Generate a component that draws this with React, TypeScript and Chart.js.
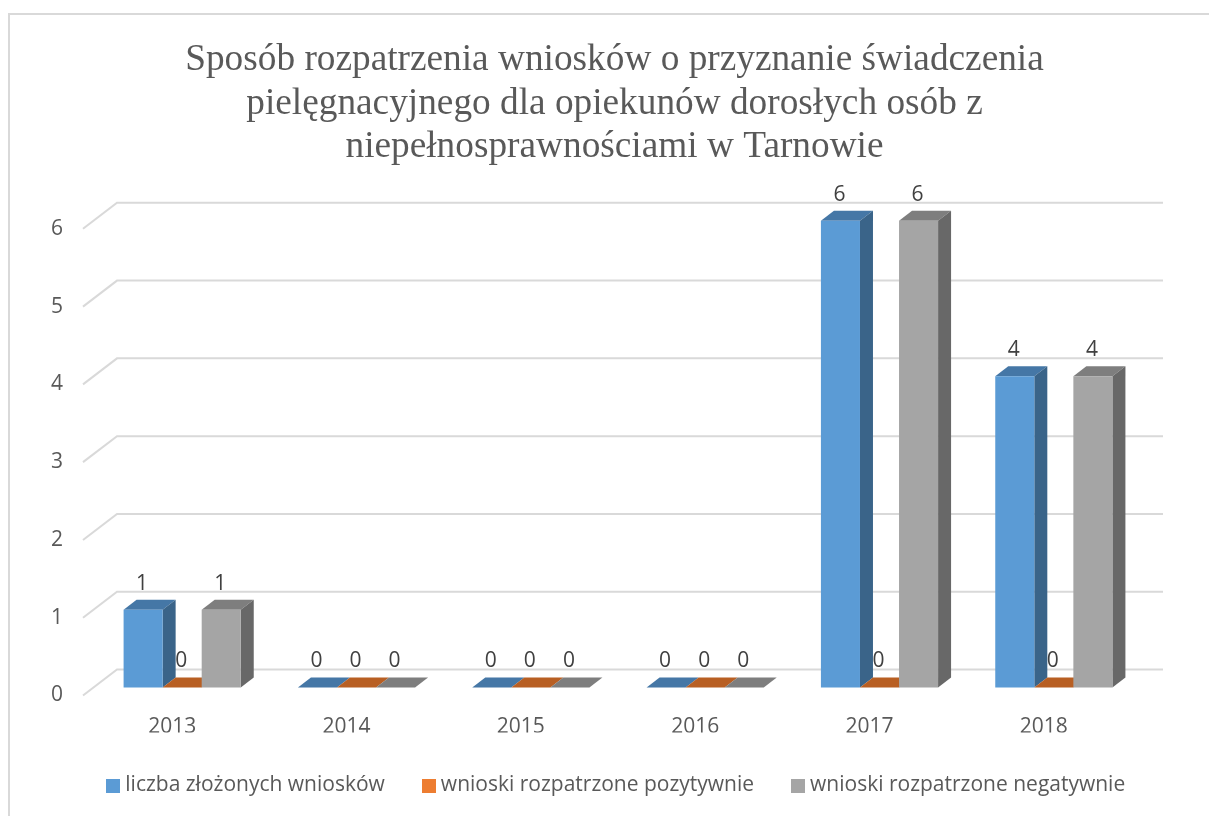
import React, { useEffect, useRef } from "react";
import Chart from "chart.js/auto";

const categories = ["2013", "2014", "2015", "2016", "2017", "2018"];
const submitted = [1, 0, 0, 0, 6, 4];
const positive = [0, 0, 0, 0, 0, 0];
const negative = [1, 0, 0, 0, 6, 4];
const seriesNames = [
  "liczba złożonych wniosków",
  "wnioski rozpatrzone pozytywnie",
  "wnioski rozpatrzone negatywnie",
];
const titleLines = [
  "Sposób rozpatrzenia wniosków o przyznanie świadczenia",
  "pielęgnacyjnego dla opiekunów dorosłych osób z",
  "niepełnosprawnościami w Tarnowie",
];
const frontColors = ["#5B9BD5", "#ED7D31", "#A5A5A5"];
const barFrontColors = ["#5B9BD5", "#B85F23", "#A5A5A5"];
const topColors = ["#4577A6", "#B85F23", "#7E7E7E"];
const sideColors = ["#3A6489", "#9C5120", "#686868"];

const UI_FONT = "'Open Sans', sans-serif";
const SHIFT_X = 10;
const SHIFT_Y = -8;
const DEPTH_X = 13;
const DEPTH_Y = 10;
const LEGEND_SHIFT = 4;

function swatch(color: string) {
  const c = document.createElement("canvas");
  c.width = 14;
  c.height = 14;
  const g = c.getContext("2d")!;
  g.fillStyle = color;
  g.fillRect(0, 0, 14, 14);
  return c;
}

function poly(ctx: CanvasRenderingContext2D, pts: number[][], color: string) {
  ctx.fillStyle = color;
  ctx.beginPath();
  pts.forEach((p, i) => (i ? ctx.lineTo(p[0], p[1]) : ctx.moveTo(p[0], p[1])));
  ctx.closePath();
  ctx.fill();
}

const frame3d = {
  id: "frame3d",
  afterLayout(chart: any) {
    chart.legend.left += LEGEND_SHIFT;
    chart.legend.right += LEGEND_SHIFT;
  },
  beforeDraw(chart: any) {
    const { ctx, width, height, chartArea, scales } = chart;
    ctx.save();
    ctx.fillStyle = "#FFFFFF";
    ctx.fillRect(0, 0, width, height);
    ctx.strokeStyle = "#D9D9D9";
    ctx.lineWidth = 2;
    ctx.beginPath();
    ctx.moveTo(9, height);
    ctx.lineTo(9, 14);
    ctx.lineTo(width, 14);
    ctx.stroke();
    const yS = scales.y;
    yS.ticks.forEach((_: any, i: number) => {
      const y = yS.getPixelForTick(i);
      ctx.beginPath();
      ctx.moveTo(chartArea.left - 2, y);
      ctx.lineTo(chartArea.left + 32, y - 26);
      ctx.lineTo(chartArea.right + 32, y - 26);
      ctx.stroke();
    });
    ctx.restore();
  },
  beforeDatasetsDraw(chart: any) {
    const { ctx } = chart;
    ctx.save();
    ctx.translate(SHIFT_X, SHIFT_Y);
    chart.data.datasets.forEach((_: any, di: number) => {
      chart.getDatasetMeta(di).data.forEach((el: any) => {
        const { x, y, base, width } = el.getProps(["x", "y", "base", "width"], true);
        const l = x - width / 2;
        const r = x + width / 2;
        poly(ctx, [[l, y], [l + DEPTH_X, y - DEPTH_Y], [r + DEPTH_X, y - DEPTH_Y], [r, y]], topColors[di]);
        if (base - y > 0.5) {
          poly(ctx, [[r, y], [r + DEPTH_X, y - DEPTH_Y], [r + DEPTH_X, base - DEPTH_Y], [r, base]], sideColors[di]);
        }
      });
    });
  },
  afterDatasetsDraw(chart: any) {
    const { ctx } = chart;
    ctx.restore();
    ctx.save();
    ctx.fillStyle = "#404040";
    ctx.font = `21px ${UI_FONT}`;
    ctx.textAlign = "center";
    ctx.textBaseline = "middle";
    chart.data.datasets.forEach((ds: any, di: number) => {
      chart.getDatasetMeta(di).data.forEach((el: any, i: number) => {
        const { x, y } = el.getProps(["x", "y"], true);
        ctx.fillText(String(ds.data[i]), x + SHIFT_X - 1, y + SHIFT_Y - 26);
      });
    });
    ctx.restore();
  },
};

export default function App() {
  const ref = useRef<HTMLCanvasElement>(null);
  useEffect(() => {
    const series = [submitted, positive, negative];
    const chart = new Chart(ref.current!, {
      type: "bar",
      data: {
        labels: categories,
        datasets: series.map((data, i) => ({
          label: seriesNames[i],
          data,
          backgroundColor: barFrontColors[i],
          borderWidth: 0,
          barPercentage: 1,
          categoryPercentage: 0.672,
          clip: false as any,
        })),
      },
      plugins: [frame3d],
      options: {
        animation: false,
        responsive: false,
        layout: { padding: { left: 20, right: 0, top: 0, bottom: 10 } },
        scales: {
          x: {
            clip: false,
            grid: { display: false, drawTicks: false },
            border: { display: false },
            ticks: { color: "#595959", font: { family: UI_FONT, size: 21 }, padding: 19, maxRotation: 0 },
            afterFit(a: any) { a.height = 37; },
          },
          y: {
            min: 0,
            max: 6,
            grid: { display: false, drawTicks: false },
            border: { display: false },
            ticks: { stepSize: 1, color: "#595959", font: { family: UI_FONT, size: 21 }, padding: 22 },
            afterFit(a: any) { a.width = 65; },
          },
          frameRight: {
            position: "right",
            display: true,
            grid: { display: false, drawTicks: false },
            border: { display: false },
            ticks: { display: false },
            afterFit(a: any) { a.width = 78; },
          },
        },
        plugins: {
          tooltip: { enabled: false },
          title: {
            display: true,
            text: titleLines,
            color: "#595959",
            font: { family: "'Liberation Serif', serif", size: 37.3, weight: "normal", lineHeight: 1.16 },
            padding: { top: 39, bottom: 60 },
          },
          legend: {
            position: "bottom",
            labels: {
              color: "#595959",
              font: { family: UI_FONT, size: 21 },
              usePointStyle: true,
              pointStyleWidth: 3,
              padding: 42.5,
              generateLabels: () =>
                seriesNames.map((text, i) => ({
                  text,
                  fillStyle: frontColors[i],
                  strokeStyle: frontColors[i],
                  lineWidth: 0,
                  fontColor: "#595959",
                  pointStyle: swatch(frontColors[i]),
                  datasetIndex: i,
                  hidden: false,
                })),
            },
          },
        },
      } as any,
    });
    return () => chart.destroy();
  }, []);
  return (
    <div style={{ position: "fixed", left: 0, top: 0, width: 1209, height: 816, background: "#fff" }}>
      <canvas ref={ref} width={1209} height={816} style={{ display: "block" }} />
    </div>
  );
}
